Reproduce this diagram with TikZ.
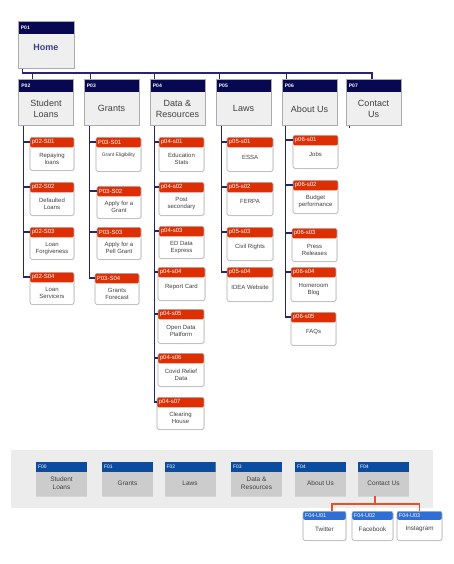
\documentclass[tikz,border=0pt]{standalone}
\usepackage{fontspec}
\setmainfont{Liberation Sans}
\usetikzlibrary{shadows}

\definecolor{navy}{RGB}{8,8,82}
\definecolor{busline}{RGB}{38,38,112}
\definecolor{tlfill}{RGB}{239,239,239}
\definecolor{boxline}{RGB}{172,172,172}
\definecolor{txtgray}{RGB}{64,64,64}
\definecolor{homeblue}{RGB}{62,62,138}
\definecolor{subred}{RGB}{222,46,4}
\definecolor{ftblue}{RGB}{12,76,160}
\definecolor{ftbody}{RGB}{204,204,204}
\definecolor{soblue}{RGB}{46,110,214}
\definecolor{panelgray}{RGB}{236,236,236}
\definecolor{linkorange}{RGB}{232,80,42}

\tikzset{
  hdr/.style 2 args={path picture={\fill[#1] (path picture bounding box.north west)
      rectangle ([yshift=-#2]path picture bounding box.north east);}},
  tl/.style={draw=boxline, line width=0.6pt, fill=tlfill, minimum width=55pt,
      minimum height=46pt, anchor=north, inner sep=0pt, hdr={navy}{13pt}},
  tlid/.style={font=\fontsize{5}{6}\selectfont\bfseries, text=white, anchor=west, inner sep=0pt},
  tltext/.style={font=\fontsize{9}{10.5}\selectfont, text=txtgray, align=center, inner sep=0pt},
  sb/.style={draw=boxline, line width=0.6pt, fill=white, rounded corners=1.5pt,
      anchor=north, inner sep=0pt, hdr={subred}{10pt},
      drop shadow={shadow xshift=0.3pt, shadow yshift=-0.8pt, opacity=0.25}},
  sbid/.style={font=\fontsize{6}{7}\selectfont, text=white, anchor=west, inner sep=0pt},
  sbtext/.style={font=\fontsize{6}{7}\selectfont, text=txtgray, align=center, inner sep=0pt},
  bus/.style={draw=busline, line width=1.4pt},
  branch/.style={draw=busline, line width=1.2pt},
  panelbox/.style={fill=panelgray, anchor=north west, inner sep=0pt},
  ft/.style={fill=ftbody, minimum width=51pt, minimum height=34pt, anchor=north,
      inner sep=0pt, hdr={ftblue}{10pt},
      drop shadow={shadow xshift=0.3pt, shadow yshift=-0.6pt, opacity=0.2}},
  ftid/.style={font=\fontsize{5}{6}\selectfont, text=white, anchor=west, inner sep=0pt},
  fttext/.style={font=\fontsize{6.5}{7.5}\selectfont, text=txtgray, align=center, inner sep=0pt},
  so/.style={draw=boxline, line width=0.6pt, fill=white, rounded corners=2pt,
      minimum height=29pt, anchor=north, inner sep=0pt, hdr={soblue}{8.5pt},
      drop shadow={shadow xshift=0.3pt, shadow yshift=-0.8pt, opacity=0.25}},
  soid/.style={font=\fontsize{5.5}{6.5}\selectfont, text=white, anchor=west, inner sep=0pt},
  sotext/.style={font=\fontsize{6.3}{7.5}\selectfont, text=txtgray, align=center, inner sep=0pt},
  link/.style={draw=linkorange, line width=1.2pt},
}

% top-level page: name, centre x, top, id, text
\newcommand\toppage[5]{%
  \node[tl] (#1) at (#2,#3) {};
  \node[tlid] (#1-id) at ([xshift=3pt,yshift=-6.5pt]#1.north west) {#4};
  \node[tltext] (#1-tx) at ([yshift=-6.5pt]#1.center) {#5};}

% sub page: name, left, top, right, bottom, id, text, text shift
\newcommand\subpage[8]{%
  \node[sb, minimum width={#4pt-#2pt}, minimum height={#5pt-#3pt}] (#1) at ({(#2+#4)/2},#3) {};
  \node[sbid] (#1-id) at ([xshift=2pt,yshift=-5pt]#1.north west) {#6};
  \node[sbtext] (#1-tx) at ([yshift=#8]#1.center) {#7};}

% footer page: name, centre x, id, text
\newcommand\footpage[4]{%
  \node[ft] (#1) at (#2,462) {};
  \node[ftid] (#1-id) at ([xshift=2pt,yshift=-5pt]#1.north west) {#3};
  \node[fttext] (#1-tx) at ([yshift=-4pt]#1.center) {#4};}

% social link: name, centre x, width, id, text
\newcommand\socialpage[5]{%
  \node[so, minimum width=#3pt] (#1) at (#2,511) {};
  \node[soid] (#1-id) at ([xshift=2pt,yshift=-4.25pt]#1.north west) {#4};
  \node[sotext] (#1-tx) at ([yshift=-3.5pt]#1.center) {#5};}

\begin{document}
\begin{tikzpicture}[x=1pt,y=-1pt]
\useasboundingbox (0,0) rectangle (453,564);
\fill[white] (0,0) rectangle (453,564);

% ---------- site map ----------
\node[tl, minimum width=56pt, minimum height=47pt] (home) at (46,21) {};
\node[tlid] (home-id) at ([xshift=3pt,yshift=-6.5pt]home.north west) {P01};
\node[tltext, text=homeblue, font=\fontsize{9}{10.5}\selectfont\bfseries] (home-tx)
  at ([yshift=-2.5pt]home.center) {Home};

\toppage{p02}{46}{79}{P02}{Student\\Loans}
\toppage{p03}{111.5}{79}{P03}{Grants}
\toppage{p04}{177.5}{79}{P04}{Data \&\\Resources}
\toppage{p05}{243.5}{79}{P05}{Laws}
\toppage{p06}{309.5}{79}{P06}{About Us}
\toppage{p07}{373.5}{79}{P07}{Contact\\Us}

% bus from Home to the top-level pages
\coordinate (busy) at (0,73);
\draw[bus] ([xshift=5pt]home.south west) |- ([xshift=-1.5pt]p07.north |- busy)
  -- ([xshift=-1.5pt]p07.north);
\foreach \n/\d in {p02/14,p03/7,p04/5,p05/4,p06/5}
  \draw[bus] ([xshift=\d pt]\n.north west) -- ([xshift=\d pt]\n.north west |- busy);
\draw[bus] ([xshift=4pt]p07.south west) -- ([xshift=4pt,yshift=-2pt]p07.south west);

% Student Loans
\subpage{s21}{30}{137}{74}{170}{p02-S01}{Repaying\\loans}{-5pt}
\subpage{s22}{30}{182}{74}{215}{p02-S02}{Defaulted\\Loans}{-5pt}
\subpage{s23}{30}{227}{74}{259}{p02-S03}{Loan\\Forgiveness}{-5pt}
\subpage{s24}{30}{272}{74}{304}{p02-S04}{Loan\\Servicers}{-5pt}
% Grants
\subpage{s31}{96}{137}{141}{171}{P03-S01}{\fontsize{5}{6}\selectfont Grant Eligibility}{-1pt}
\subpage{s32}{97}{186}{141}{218}{P03-S02}{Apply for a\\Grant}{-5pt}
\subpage{s33}{97}{227}{141}{259}{P03-S03}{Apply for a\\Pell Grant}{-5pt}
\subpage{s34}{95}{273}{139}{304}{P03-S04}{Grants\\Forecast}{-5pt}
% Data & Resources
\subpage{s41}{159}{137}{204}{171}{p04-s01}{Education\\Stats}{-5pt}
\subpage{s42}{159}{182}{204}{215}{p04-s02}{Post\\secondary}{-5pt}
\subpage{s43}{159}{226}{204}{258}{p04-s03}{ED Data\\Express}{-5pt}
\subpage{s44}{158}{267}{205}{300}{p04-s04}{Report Card}{-3pt}
\subpage{s45}{158}{309}{204}{343}{p04-s05}{Open Data\\Platform}{-5pt}
\subpage{s46}{158}{353}{204}{386}{p04-s06}{Covid Relief\\Data}{-5pt}
\subpage{s47}{157}{397}{204}{429}{p04-s07}{Clearing\\House}{-5pt}
% Laws
\subpage{s51}{227}{137}{273}{171}{p05-s01}{ESSA}{-3pt}
\subpage{s52}{227}{182}{273}{215}{p05-s02}{FERPA}{-3pt}
\subpage{s53}{227}{227}{273}{260}{p05-s03}{Civil Rights}{-3pt}
\subpage{s54}{227}{267}{273}{301}{p05-s04}{IDEA Website}{-3pt}
% About Us
\subpage{s61}{293}{135}{338}{168}{p06-s01}{Jobs}{-3pt}
\subpage{s62}{293}{180}{338}{213}{p06-s02}{Budget\\performance}{-5pt}
\subpage{s63}{292}{228}{337}{261}{p06-s03}{Press\\Releases}{-5pt}
\subpage{s64}{291}{267}{336}{301}{p06-s04}{Homeroom\\Blog}{-5pt}
\subpage{s65}{291}{312}{336}{345}{p06-s05}{FAQs}{-3pt}

% column lines from each top-level page to its sub pages
\coordinate (c2) at ([xshift=5pt]p02.south west);
\coordinate (c3) at ([xshift=6pt]p03.south west);
\coordinate (c4) at ([xshift=5pt]p04.south west);
\coordinate (c5) at ([xshift=6pt]p05.south west);
\coordinate (c6) at ([xshift=4pt]p06.south west);
\foreach \c/\last/\others in {c2/s24/{s21,s22,s23}, c3/s34/{s31,s32,s33},
    c4/s47/{s41,s42,s43,s44,s45,s46}, c5/s54/{s51,s52,s53}, c6/s65/{s61,s62,s63,s64}}{
  \draw[branch] (\c) |- ([yshift=-5pt]\last.north west);
  \foreach \s in \others
    \draw[branch] ([yshift=-5pt]\s.north west) -- ([yshift=-5pt]\s.north west -| \c);
}

% ---------- footer navigation ----------
\node[panelbox, minimum width=422pt, minimum height=58pt] (panel) at (11,450) {};
\footpage{f00}{61.5}{F00}{Student\\Loans}
\footpage{f01}{127.5}{F01}{Grants}
\footpage{f02}{190}{F02}{Laws}
\footpage{f03}{256.5}{F03}{Data \&\\Resources}
\footpage{f04}{320.5}{F04}{About Us}
\footpage{f05}{383.5}{F04}{Contact Us}

\socialpage{u01}{324.5}{43}{F04-U01}{Twitter}
\socialpage{u02}{372.5}{41}{F04-U02}{Facebook}
\socialpage{u03}{419.5}{45}{F04-U03}{Instagram}

\coordinate (oj) at (375,504);
\draw[link] ([xshift=-8.5pt]f05.south) -- (oj);
\draw[link] ([xshift=7.5pt]u01.north) |- (oj) -| (u03.north);
\end{tikzpicture}
\end{document}
